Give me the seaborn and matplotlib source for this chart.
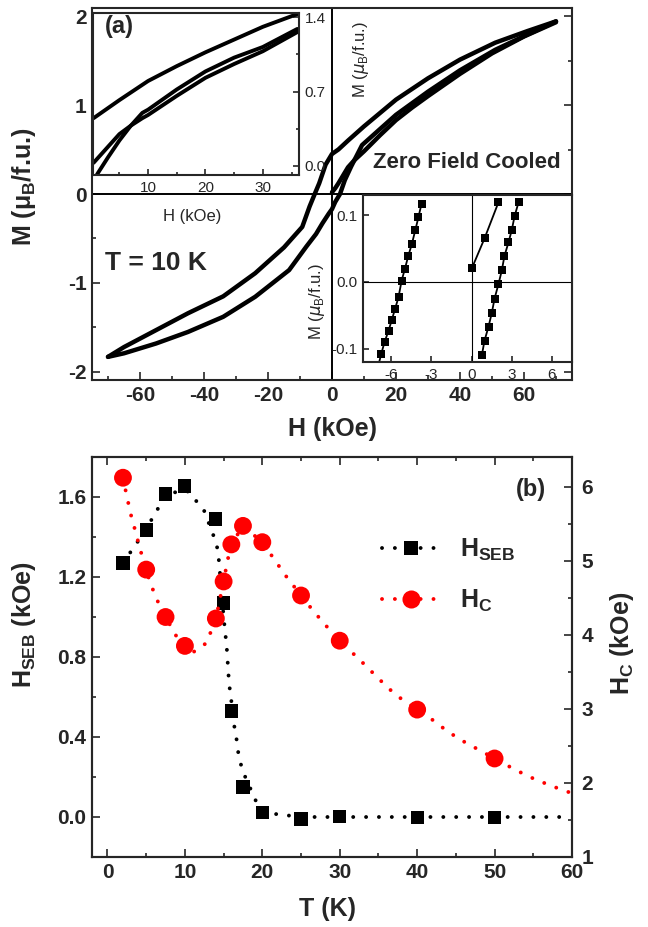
import matplotlib
matplotlib.use("Agg")
import matplotlib.pyplot as plt
import seaborn as sns
from matplotlib.ticker import MultipleLocator, FormatStrFormatter
from matplotlib.lines import Line2D

# --- DATA ---
# (a) main M-H loop at 10 K, zero field cooled
down_H = [70, 61, 51, 40, 30, 20, 10, 5, 2, 0, -2, -4, -5.4, -7, -9.3, -15, -24, -34, -45, -55, -65, -70]
down_M = [1.94, 1.83, 1.70, 1.51, 1.30, 1.06, 0.76, 0.60, 0.50, 0.45, 0.33, 0.12, 0.0, -0.14, -0.37, -0.60,
          -0.89, -1.15, -1.34, -1.53, -1.72, -1.83]
up_H = [-70, -65, -55, -45, -34, -24, -13.4, -8, -5, -3, -1, 0, 1, 2.5, 4, 6, 9.4, 20, 30, 40, 51, 61, 70]
up_M = [-1.83, -1.79, -1.68, -1.55, -1.38, -1.155, -0.855, -0.59, -0.45, -0.33, -0.22, -0.17, -0.09, 0.0,
        0.155, 0.31, 0.55, 0.89, 1.15, 1.39, 1.62, 1.79, 1.94]
virgin_H = [0, 1, 2, 3, 5, 7, 10, 15, 20, 25, 30, 40, 50, 60, 70]
virgin_M = [0.02, 0.065, 0.12, 0.18, 0.30, 0.38, 0.48, 0.66, 0.83, 0.97, 1.10, 1.35, 1.58, 1.77, 1.93]

# top-left inset (first quadrant, enlarged)
ins1_down_H = [0.5, 5, 10, 15, 20, 25, 30, 36]
ins1_down_M = [0.45, 0.62, 0.80, 0.94, 1.07, 1.19, 1.31, 1.43]
ins1_up_H = [1.1, 3, 5, 7, 9, 10, 15, 20, 25, 30, 36]
ins1_up_M = [-0.08, 0.08, 0.24, 0.38, 0.50, 0.53, 0.72, 0.89, 1.02, 1.12, 1.29]
ins1_vir_H = [0.5, 3, 5, 7, 9, 10, 15, 20, 25, 30, 36]
ins1_vir_M = [0.03, 0.18, 0.30, 0.38, 0.45, 0.48, 0.66, 0.83, 0.96, 1.08, 1.26]

# bottom-right inset (around M = 0)
ins2_left_H = [-6.94, -6.74, -6.49, -6.19, -5.95, -5.70, -5.45, -5.22, -4.98, -4.73, -4.45, -4.20, -3.96, -3.73]
ins2_left_M = [-0.124, -0.108, -0.090, -0.073, -0.057, -0.040, -0.023, 0.0015, 0.019, 0.038, 0.057, 0.077,
               0.097, 0.117]
ins2_right_H = [0.77, 0.97, 1.27, 1.52, 1.72, 2.01, 2.26, 2.46, 2.76, 3.01, 3.21, 3.51]
ins2_right_M = [-0.110, -0.088, -0.067, -0.046, -0.025, -0.0035, 0.017, 0.039, 0.059, 0.078, 0.098, 0.119]
ins2_vir_H = [0.02, 0.97, 2.01]
ins2_vir_M = [0.020, 0.065, 0.119]

# (b) temperature dependence
T_pts = [2, 5, 7.5, 10, 14, 15, 16, 17.5, 20, 25, 30, 40, 50]
H_seb = [1.27, 1.435, 1.615, 1.655, 1.49, 1.07, 0.53, 0.15, 0.022, -0.01, 0.003, -0.003, -0.002]
H_c = [6.12, 4.88, 4.24, 3.85, 4.22, 4.72, 5.22, 5.47, 5.25, 4.53, 3.92, 2.99, 2.33]

# dotted guide-to-the-eye curves
guide_T_seb = [2, 3.7, 5, 6.4, 7.9, 10.3, 12.4, 14.1, 14.4, 15.0, 15.4, 15.7, 16.0, 16.2, 16.6, 16.9, 17.4,
               19.4, 21.7, 25, 30, 40, 50, 60]
guide_H_seb = [1.27, 1.365, 1.44, 1.535, 1.62, 1.63, 1.54, 1.365, 1.28, 1.0, 0.85, 0.67, 0.58, 0.49, 0.41,
               0.32, 0.235, 0.06, 0.015, 0.0, 0.0, 0.0, 0.0, 0.0]
guide_T_c = [2, 2.5, 3.0, 3.6, 4.2, 5, 5.55, 6.5, 7.5, 8.9, 10, 11.0, 12.8, 14, 15, 15.5, 16, 17.5, 20, 21.4,
             23.0, 25, 26.6, 28.5, 30, 32.8, 35, 37.2, 40, 42, 44, 46, 50, 52.8, 55.2, 57.6, 60]
guide_H_c = [6.12, 5.87, 5.63, 5.40, 5.16, 4.88, 4.69, 4.45, 4.24, 3.98, 3.85, 3.76, 3.89, 4.22, 4.72, 5.0,
             5.22, 5.47, 5.25, 5.04, 4.80, 4.53, 4.32, 4.09, 3.92, 3.64, 3.41, 3.19, 2.99, 2.85, 2.69, 2.56,
             2.33, 2.17, 2.05, 1.95, 1.86]

# --- STYLE ---
sns.set_style("ticks")
plt.rcParams['font.family'] = ['Liberation Sans', 'DejaVu Sans']
plt.rcParams['mathtext.fontset'] = 'custom'
plt.rcParams['mathtext.rm'] = 'Liberation Sans'
plt.rcParams['mathtext.bf'] = 'Liberation Sans:bold'
plt.rcParams['axes.linewidth'] = 1.5
plt.rcParams['axes.unicode_minus'] = False

TICK_FS = 15
LABEL_FS = 18
DOT = (0, (0.01, 3.3))


def style_ticks(ax, size=TICK_FS, bold=True, major=6, minor=3, pad=4):
    ax.tick_params(which='both', direction='in', width=1.2, labelsize=size, pad=pad)
    ax.tick_params(which='major', length=major)
    ax.tick_params(which='minor', length=minor)
    for lab in ax.get_xticklabels() + ax.get_yticklabels():
        lab.set_fontweight('bold' if bold else 'normal')


fig = plt.figure(figsize=(6.48, 9.27), dpi=100)

# --- PANEL (a) ---
axA = fig.add_axes([92 / 648, 1 - 380 / 927, 480 / 648, 372 / 927])
for xs, ys in [(down_H, down_M), (up_H, up_M), (virgin_H, virgin_M)]:
    sns.lineplot(x=xs, y=ys, sort=False, estimator=None, color='black', lw=3.2, ax=axA)
axA.axhline(0, color='black', lw=1.4)
axA.axvline(0, color='black', lw=1.4)
axA.set_xlim(-75, 75)
axA.set_ylim(-2.09, 2.09)
axA.xaxis.set_major_locator(MultipleLocator(20))
axA.xaxis.set_minor_locator(MultipleLocator(10))
axA.yaxis.set_major_locator(MultipleLocator(1))
axA.yaxis.set_minor_locator(MultipleLocator(0.5))
axA.tick_params(which='both', right=True)
style_ticks(axA)
axA.set_xlabel("H (kOe)", fontsize=LABEL_FS, fontweight='bold', va='top')
axA.xaxis.set_label_coords(0.5, -0.1)
axA.set_ylabel(r"M ($\mathbf{\mu_B}$/f.u.)", fontsize=LABEL_FS, fontweight='bold')
axA.yaxis.set_label_coords(-0.1125, 0.52)
axA.text(0.027, 0.296, "T = 10 K", transform=axA.transAxes, fontsize=19, fontweight='bold')
axA.text(0.977, 0.57, "Zero Field Cooled", transform=axA.transAxes, fontsize=16, fontweight='bold',
         ha='right')

# top-left inset
ax1 = fig.add_axes([93 / 648, 1 - 175 / 927, 206 / 648, 162 / 927])
for xs, ys in [(ins1_down_H, ins1_down_M), (ins1_up_H, ins1_up_M), (ins1_vir_H, ins1_vir_M)]:
    sns.lineplot(x=xs, y=ys, sort=False, estimator=None, color='black', lw=2.8, ax=ax1)
ax1.set_xlim(0.4, 36.3)
ax1.set_ylim(-0.085, 1.44)
ax1.yaxis.tick_right()
ax1.yaxis.set_label_position('right')
ax1.xaxis.set_major_locator(MultipleLocator(10))
ax1.xaxis.set_minor_locator(MultipleLocator(5))
ax1.yaxis.set_major_locator(MultipleLocator(0.7))
ax1.yaxis.set_minor_locator(MultipleLocator(0.35))
ax1.yaxis.set_major_formatter(FormatStrFormatter('%.1f'))
style_ticks(ax1, size=11, bold=False, major=4, minor=2)
ax1.set_xlabel("H (kOe)", fontsize=12, va='top')
ax1.xaxis.set_label_coords(0.48, -0.21)
ax1.set_ylabel(r"M ($\mu_\mathrm{B}$/f.u.)", fontsize=12)
ax1.yaxis.set_label_coords(1.25, 0.716)
ax1.text(0.058, 0.917, "(a)", transform=ax1.transAxes, fontsize=17, fontweight='bold', va='center')

# bottom-right inset
ax2 = fig.add_axes([363 / 648, 1 - 362 / 927, 209 / 648, 167 / 927])
ax2.axhline(0, color='black', lw=0.8)
ax2.axvline(0, color='black', lw=0.8)
for xs, ys in [(ins2_left_H, ins2_left_M), (ins2_right_H, ins2_right_M), (ins2_vir_H, ins2_vir_M)]:
    sns.lineplot(x=xs, y=ys, sort=False, estimator=None, color='black', lw=1.3, marker='s',
                 markersize=5.5, markeredgewidth=0, ax=ax2)
ax2.set_xlim(-8.1, 7.5)
ax2.set_ylim(-0.12, 0.13)
ax2.xaxis.set_major_locator(MultipleLocator(3))
ax2.yaxis.set_major_locator(MultipleLocator(0.1))
ax2.yaxis.set_major_formatter(FormatStrFormatter('%.1f'))
style_ticks(ax2, size=11, bold=False, major=4, minor=2)
ax2.set_ylabel(r"M ($\mu_\mathrm{B}$/f.u.)", fontsize=12)
ax2.yaxis.set_label_coords(-0.172, 0.36)

# --- PANEL (b) ---
axB = fig.add_axes([92 / 648, 1 - 857 / 927, 480 / 648, 400 / 927])
axB2 = axB.twinx()
sns.lineplot(x=guide_T_seb, y=guide_H_seb, sort=False, estimator=None, color='black', lw=2.8,
             linestyle=DOT, dash_capstyle='round', ax=axB)
sns.scatterplot(x=T_pts, y=H_seb, marker='s', s=90, color='black', edgecolor='none', ax=axB, zorder=3)
sns.lineplot(x=guide_T_c, y=guide_H_c, sort=False, estimator=None, color='red', lw=2.8,
             linestyle=DOT, dash_capstyle='round', ax=axB2)
sns.scatterplot(x=T_pts, y=H_c, marker='o', s=165, color='red', edgecolor='none', ax=axB2, zorder=3)

axB.set_xlim(-2, 60)
axB.set_ylim(-0.2, 1.8)
axB2.set_ylim(1, 6.4)
axB.xaxis.set_major_locator(MultipleLocator(10))
axB.xaxis.set_minor_locator(MultipleLocator(5))
axB.yaxis.set_major_locator(MultipleLocator(0.4))
axB.yaxis.set_minor_locator(MultipleLocator(0.2))
axB.yaxis.set_major_formatter(FormatStrFormatter('%.1f'))
axB2.yaxis.set_major_locator(MultipleLocator(1))
axB2.yaxis.set_minor_locator(MultipleLocator(0.5))
axB.tick_params(which='both', top=True)
style_ticks(axB)
style_ticks(axB2, pad=7)
axB.set_xlabel("T (K)", fontsize=LABEL_FS, fontweight='bold', va='top')
axB.xaxis.set_label_coords(0.49, -0.1)
axB.set_ylabel(r"H$_\mathbf{SEB}$ (kOe)", fontsize=LABEL_FS, fontweight='bold')
axB.yaxis.set_label_coords(-0.1125, 0.58)
axB2.set_ylabel(r"H$_\mathbf{C}$ (kOe)", fontsize=LABEL_FS, fontweight='bold', va='top')
axB2.yaxis.set_label_coords(1.075, 0.535)
axB.text(0.946, 0.918, "(b)", transform=axB.transAxes, fontsize=17, fontweight='bold',
         ha='right', va='center')

handles = [
    Line2D([], [], color='black', lw=2.8, linestyle=DOT, dash_capstyle='round', marker='s',
           markersize=10, markeredgewidth=0),
    Line2D([], [], color='red', lw=2.8, linestyle=DOT, dash_capstyle='round', marker='o',
           markersize=13, markeredgewidth=0),
]
axB2.legend(handles, [r"H$_\mathbf{SEB}$", r"H$_\mathbf{C}$"], loc='upper left',
            bbox_to_anchor=(0.605, 0.80), frameon=False, handlelength=2.3, handletextpad=0.8,
            labelspacing=1.0, borderpad=0, borderaxespad=0,
            prop={'size': 18, 'weight': 'bold'})

fig.savefig("out.png", dpi=100)
